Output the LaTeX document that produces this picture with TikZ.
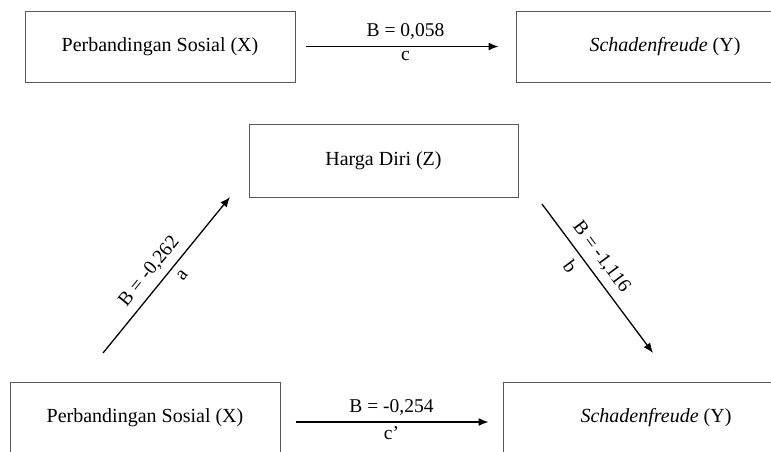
\documentclass[tikz,border=0pt]{standalone}
\usepackage{fontspec}
\setmainfont{Liberation Serif}
\usetikzlibrary{arrows.meta}

\tikzset{
  var/.style={draw=black!65, line width=1pt, minimum width=270pt, minimum height=71pt, inner sep=0pt, font=\fontsize{20}{24}\selectfont},
  eff/.style={-{Latex[length=10pt,width=8pt]}, line width=1.3pt},
  coef/.style={font=\fontsize{19.5}{23}\selectfont, inner sep=2pt},
}

\begin{document}
\begin{tikzpicture}[x=1pt,y=-1pt]
\useasboundingbox (0,0) rectangle (771,451);
\clip (0,0) rectangle (771,451);

% total effect
                \node[var] (xtop) at (160,46.5) {Perbandingan Sosial (X)};
                \node[var, minimum width=298pt] (ytop) at (665,46.5) {\textit{Schadenfreude} (Y)};
                \draw[eff, shorten <=10pt, shorten >=17pt] (xtop.east) -- (ytop.west)
                    node[coef, midway, above=4pt] {B = 0,058}
                    node[coef, midway, below=2pt] {c};
                %
% mediator
                \node[var, minimum width=269pt, minimum height=73pt] (zmid) at (383.5,160.5) {Harga Diri (Z)};
                %
% direct effect
                \node[var] (xbot) at (145,417.5) {Perbandingan Sosial (X)};
                \node[var, minimum width=306pt] (ybot) at (656,417.5) {\textit{Schadenfreude} (Y)};
                \draw[eff, shorten <=15pt, shorten >=14pt] ([yshift=-4.5pt]xbot.east) -- ([yshift=-4.5pt]ybot.west)
                    node[coef, midway, above=4pt] {B = -0,254}
                    node[coef, midway, below=2pt] {c'};
                %
% path a and path b
                \coordinate (a0) at (103,353);
                \coordinate (a1) at (230,197);
                \coordinate (b0) at (542,204);
                \coordinate (b1) at (653,353);
                \draw[eff] (a0) -- (a1)
                    node[coef, pos=0.46, sloped, above=5pt] {B = -0,262}
                    node[coef, pos=0.55, sloped, below=5pt] {a};
                \draw[eff] (b0) -- (b1)
                    node[coef, pos=0.42, sloped, above=5pt] {B = -1,116}
                    node[coef, pos=0.36, sloped, below=5pt] {b};
\end{tikzpicture}
\end{document}
